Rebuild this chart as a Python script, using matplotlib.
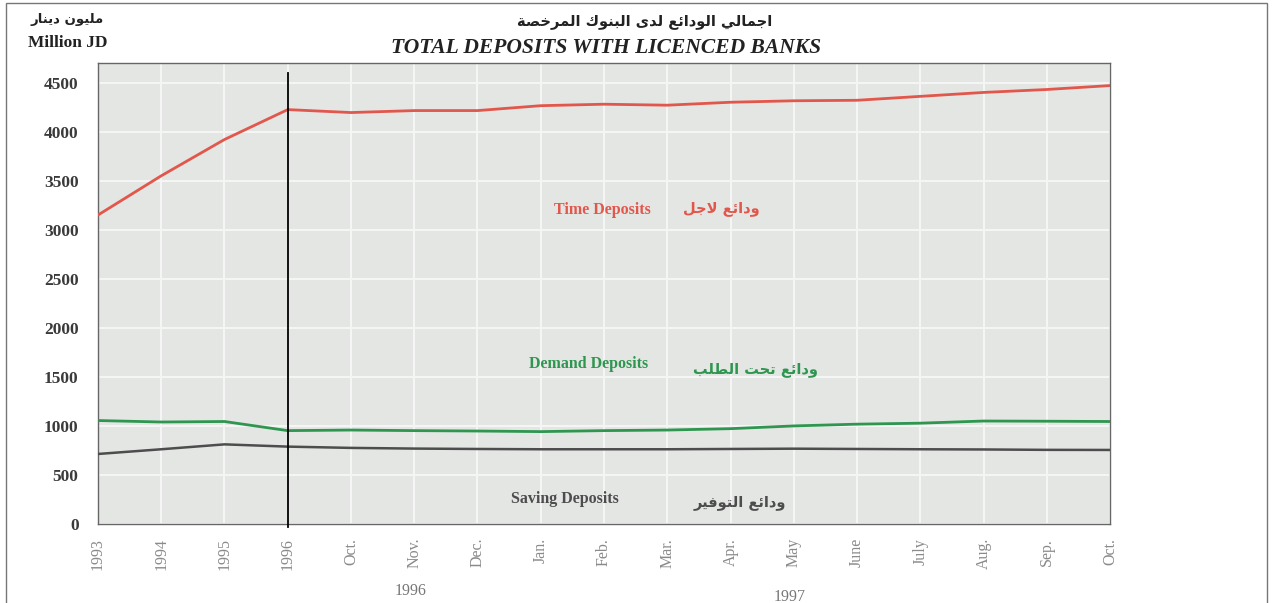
import matplotlib
matplotlib.use('Agg')
from matplotlib import pyplot as plt
from matplotlib.patches import Rectangle

# x axis: three yearly points then monthly points Sep-96 .. Oct-97
x_labels = ["1993", "1994", "1995", "1996", "Oct.", "Nov.", "Dec.", "Jan.", "Feb.",
            "Mar.", "Apr.", "May", "June", "July", "Aug.", "Sep.", "Oct."]

time_deposits = [3150, 3550, 3920, 4225, 4195, 4215, 4215, 4265, 4280,
                 4270, 4300, 4315, 4320, 4360, 4400, 4430, 4470]
demand_deposits = [1055, 1040, 1045, 952, 958, 952, 948, 942, 952,
                   958, 972, 1000, 1018, 1028, 1050, 1048, 1045]
saving_deposits = [714, 762, 812, 789, 776, 769, 765, 762, 762,
                   762, 765, 768, 765, 762, 760, 756, 755]

# Arabic presentation forms: isolated, final, initial, medial
FORMS = {
    'ا': (0xFE8D, 0xFE8E, None, None),
    'ب': (0xFE8F, 0xFE90, 0xFE91, 0xFE92),
    'ة': (0xFE93, 0xFE94, None, None),
    'ت': (0xFE95, 0xFE96, 0xFE97, 0xFE98),
    'ج': (0xFE9D, 0xFE9E, 0xFE9F, 0xFEA0),
    'ح': (0xFEA1, 0xFEA2, 0xFEA3, 0xFEA4),
    'خ': (0xFEA5, 0xFEA6, 0xFEA7, 0xFEA8),
    'د': (0xFEA9, 0xFEAA, None, None),
    'ر': (0xFEAD, 0xFEAE, None, None),
    'ص': (0xFEB9, 0xFEBA, 0xFEBB, 0xFEBC),
    'ط': (0xFEC1, 0xFEC2, 0xFEC3, 0xFEC4),
    'ع': (0xFEC9, 0xFECA, 0xFECB, 0xFECC),
    'ف': (0xFED1, 0xFED2, 0xFED3, 0xFED4),
    'ك': (0xFED9, 0xFEDA, 0xFEDB, 0xFEDC),
    'ل': (0xFEDD, 0xFEDE, 0xFEDF, 0xFEE0),
    'م': (0xFEE1, 0xFEE2, 0xFEE3, 0xFEE4),
    'ن': (0xFEE5, 0xFEE6, 0xFEE7, 0xFEE8),
    'و': (0xFEED, 0xFEEE, None, None),
    'ى': (0xFEEF, 0xFEF0, None, None),
    'ي': (0xFEF1, 0xFEF2, 0xFEF3, 0xFEF4),
    'ئ': (0xFE89, 0xFE8A, 0xFE8B, 0xFE8C),
    'LA': (0xFEFB, 0xFEFC, None, None),
}


def shape(text):
    # join letters and put them in visual (right to left) order
    toks = []
    i = 0
    while i < len(text):
        if text[i] == 'ل' and text[i + 1:i + 2] == 'ا':
            toks.append('LA')
            i += 2
        else:
            toks.append(text[i])
            i += 1
    out = []
    for k, t in enumerate(toks):
        if t not in FORMS:
            out.append(t)
            continue
        iso, fin, ini, med = FORMS[t]
        prev = toks[k - 1] if k > 0 else None
        nxt = toks[k + 1] if k + 1 < len(toks) else None
        join_prev = prev in FORMS and FORMS[prev][2] is not None
        join_next = ini is not None and nxt in FORMS
        if join_prev and join_next:
            c = med
        elif join_prev:
            c = fin
        elif join_next:
            c = ini
        else:
            c = iso
        out.append(chr(c))
    return ''.join(reversed(out))


RED = "#e2574c"
GREEN = "#2f9650"
GREY = "#4d4d4d"
SERIF = "Liberation Serif"
ARABIC = ["DejaVu Sans"]


def plot_deposits():
    fig = plt.figure(figsize=(12.74, 6.03), dpi=100)
    ax = fig.add_axes([0.0769, 0.131, 0.7944, 0.7645])
    ax.set_facecolor("#e4e6e4")

    x = list(range(len(x_labels)))
    ax.plot(x, time_deposits, color=RED, lw=2, zorder=3)
    ax.plot(x, demand_deposits, color=GREEN, lw=2, zorder=3)
    ax.plot(x, saving_deposits, color=GREY, lw=1.8, zorder=3)

    # divider between yearly and monthly data
    ax.plot([3, 3], [-30, 4600], color="black", lw=1.3, zorder=4, clip_on=False)

    ax.set_xlim(0, len(x_labels) - 1)
    ax.set_ylim(0, 4700)
    ax.set_xticks(x)
    ax.set_xticklabels(x_labels, rotation=90, fontsize=11.5, family=SERIF,
                       color="#8a8a8a", va="top")
    ax.set_yticks(range(0, 5000, 500))
    ax.set_yticklabels([str(v) for v in range(0, 5000, 500)], fontsize=12.5,
                       family=SERIF, fontweight="bold", color="#3a3a3a")
    ax.tick_params(length=0, pad=14, axis="y")
    ax.tick_params(length=0, pad=10, axis="x")
    ax.grid(True, color="#f6f6f6", lw=1.4, zorder=1)
    ax.set_axisbelow(True)
    for sp in ax.spines.values():
        sp.set_color("#666666")
        sp.set_linewidth(1)

    # series labels
    ax.text(7.98, 3200, "Time Deposits", color=RED, fontsize=11.5, family=SERIF,
            fontweight="bold", ha="center", va="center")
    ax.text(9.85, 3220, shape("ودائع لاجل"), color=RED, fontsize=10.5,
            family=ARABIC, fontweight="bold", ha="center", va="center")
    ax.text(7.75, 1635, "Demand Deposits", color=GREEN, fontsize=11.5, family=SERIF,
            fontweight="bold", ha="center", va="center")
    ax.text(10.4, 1580, shape("ودائع تحت الطلب"), color=GREEN, fontsize=10.5,
            family=ARABIC, fontweight="bold", ha="center", va="center")
    ax.text(7.38, 255, "Saving Deposits", color=GREY, fontsize=11.5, family=SERIF,
            fontweight="bold", ha="center", va="center")
    ax.text(10.15, 215, shape("ودائع التوفير"), color=GREY, fontsize=10.5,
            family=ARABIC, fontweight="bold", ha="center", va="center")

    # titles
    fig.text(0.506, 0.965, shape("اجمالي الودائع لدى البنوك المرخصة"), fontsize=10.5,
             family=ARABIC, fontweight="bold", ha="center", va="center", color="#222222")
    fig.text(0.476, 0.921, "TOTAL DEPOSITS WITH LICENCED BANKS", fontsize=15.5,
             family=SERIF, fontweight="bold", style="italic", ha="center",
             va="center", color="#222222")
    fig.text(0.053, 0.968, shape("مليون دينار"), fontsize=9.5, family=ARABIC,
             fontweight="bold", ha="center", va="center", color="#222222")
    fig.text(0.053, 0.928, "Million JD", fontsize=12.5, family=SERIF,
             fontweight="bold", ha="center", va="center", color="#222222")

    # year captions under the month ticks
    fig.text(0.322, 0.02, "1996", fontsize=11.5, family=SERIF, color="#777777",
             ha="center", va="center")
    fig.text(0.62, 0.01, "1997", fontsize=11.5, family=SERIF, color="#777777",
             ha="center", va="center")

    # outer frame
    fig.patches.append(Rectangle((0.0047, -0.02), 0.9898, 1.015, transform=fig.transFigure,
                                 fill=False, edgecolor="#777777", lw=1))

    fig.savefig("out.png", dpi=100)


if __name__ == "__main__":
    plot_deposits()
